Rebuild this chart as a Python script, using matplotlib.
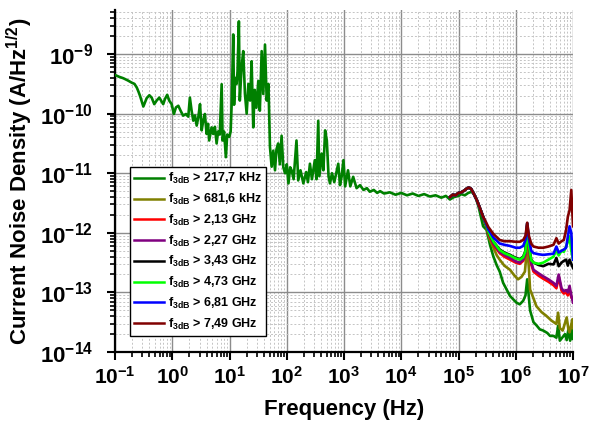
import numpy as np
import matplotlib
matplotlib.use("Agg")
import matplotlib.pyplot as plt
from matplotlib.ticker import LogLocator, FuncFormatter, NullFormatter

plt.rcParams["font.family"] = ["Liberation Sans", "DejaVu Sans"]
plt.rcParams["font.weight"] = "bold"
plt.rcParams["mathtext.fontset"] = "custom"
plt.rcParams["mathtext.rm"] = "Liberation Sans:bold"
plt.rcParams["mathtext.bf"] = "Liberation Sans:bold"
plt.rcParams["mathtext.it"] = "Liberation Sans:bold"

# values, stored as decades: log10(f / Hz), log10(I / A/Hz^0.5)
green_f = [
    -1.00, -0.93, -0.855, -0.78, -0.71, -0.66, -0.62, -0.59, -0.563, -0.505,
    -0.447, -0.40, -0.36, -0.314, -0.273, -0.226, -0.184, -0.158, -0.128, -0.088,
    -0.053, -0.011, 0.029, 0.064, 0.106, 0.146, 0.19, 0.24, 0.28, 0.308,
    0.338, 0.367, 0.397, 0.427, 0.455, 0.485, 0.514, 0.54, 0.57, 0.60,
    0.625, 0.645, 0.687, 0.715, 0.745, 0.775, 0.80, 0.83, 0.863, 0.88,
    0.905, 0.937, 0.96, 0.995, 1.02, 1.04, 1.065, 1.08, 1.10, 1.124,
    1.14, 1.164, 1.18, 1.21, 1.24, 1.27, 1.30, 1.33, 1.36, 1.386,
    1.415, 1.44, 1.47, 1.503, 1.53, 1.562, 1.59, 1.62, 1.65, 1.68,
    1.707, 1.736, 1.765, 1.795, 1.82, 1.85, 1.88, 1.91, 1.94, 1.97,
    2.00, 2.03, 2.06, 2.085, 2.12, 2.17, 2.20, 2.24, 2.29, 2.34,
    2.37, 2.405, 2.44, 2.49, 2.52, 2.55, 2.57, 2.61, 2.64, 2.67,
    2.70, 2.73, 2.755, 2.79, 2.83, 2.86, 2.90, 2.93, 2.96, 2.99,
    3.02, 3.07, 3.11, 3.16, 3.22, 3.28, 3.34, 3.40, 3.45, 3.52,
    3.58, 3.63, 3.70, 3.80, 3.90, 4.00, 4.10, 4.20, 4.30, 4.40,
    4.50, 4.60, 4.70, 4.78, 4.85, 4.92, 5.00, 5.05, 5.11, 5.17,
    5.23, 5.29, 5.35, 5.43, 5.49, 5.55, 5.61, 5.67, 5.72, 5.78,
    5.84, 5.90, 6.01, 6.07, 6.13, 6.17, 6.20, 6.23, 6.25, 6.31,
    6.36, 6.42, 6.48, 6.55, 6.60, 6.66, 6.71, 6.74, 6.77, 6.82,
    6.86, 6.89, 6.92, 6.95, 6.99, 7.00,
]
green_i = [
    -9.35, -9.38, -9.405, -9.44, -9.478, -9.50, -9.56, -9.63, -9.70, -9.88,
    -9.74, -9.69, -9.73, -9.84, -9.78, -9.73, -9.80, -9.84, -9.755, -9.683,
    -9.78, -9.84, -10.005, -9.895, -9.867, -9.95, -10.033, -10.005, -10.05, -9.73,
    -9.95, -10.117, -10.03, -10.20, -10.06, -9.84, -10.28, -10.12, -10.005, -10.34,
    -10.17, -10.45, -10.23, -10.34, -10.22, -10.50, -10.30, -10.35, -9.505, -10.45,
    -10.30, -10.73, -10.35, -10.39, -10.30, -9.78, -8.67, -9.85, -9.40, -9.50,
    -9.30, -8.45, -9.78, -9.23, -8.95, -9.67, -10.00, -9.50, -9.78, -9.12,
    -10.23, -9.60, -9.90, -9.45, -9.95, -8.95, -9.67, -8.84, -9.78, -9.50,
    -10.56, -10.89, -10.62, -10.95, -10.60, -10.50, -10.85, -10.37, -10.90, -11.00,
    -10.85, -11.17, -10.90, -10.95, -11.10, -10.45, -11.12, -10.95, -11.17, -10.98,
    -11.15, -10.84, -11.10, -10.78, -11.10, -10.12, -11.05, -10.67, -10.95, -10.28,
    -10.45, -11.05, -11.17, -11.00, -11.15, -11.02, -10.84, -11.20, -11.05, -10.78,
    -11.22, -10.95, -11.22, -11.06, -11.25, -11.20, -11.28, -11.25, -11.31, -11.28,
    -11.33, -11.30, -11.34, -11.32, -11.36, -11.33, -11.37, -11.34, -11.38, -11.35,
    -11.39, -11.37, -11.41, -11.38, -11.44, -11.40, -11.38, -11.35, -11.37, -11.33,
    -11.31, -11.38, -11.56, -11.89, -11.95, -12.20, -12.40, -12.55, -12.65, -12.84,
    -12.95, -13.06, -13.17, -13.20, -13.14, -13.05, -12.78, -13.10, -13.30, -13.50,
    -13.55, -13.62, -13.64, -13.68, -13.73, -13.73, -13.76, -13.56, -13.81, -13.75,
    -13.70, -13.80, -13.62, -13.81, -13.56, -13.78,
]

# shared start of the high-bandwidth traces (they lie on top of each other here)
trunk_f = [4.85, 4.90, 4.95, 5.00, 5.05, 5.10, 5.14, 5.18, 5.22, 5.27, 5.32, 5.38, 5.43]
trunk_i = [-11.40, -11.36, -11.37, -11.33, -11.32, -11.29, -11.26, -11.24, -11.26,
           -11.35, -11.45, -11.60, -11.73]

olive_f = [5.48, 5.55, 5.61, 5.67, 5.72, 5.80, 5.90, 5.98, 6.04, 6.10, 6.16, 6.20, 6.23, 6.25,
           6.31, 6.36, 6.45, 6.53, 6.62, 6.71, 6.74, 6.77, 6.82, 6.89, 6.92, 6.94, 6.99, 7.00]
olive_i = [-11.88, -12.12, -12.25, -12.38, -12.45, -12.55, -12.62, -12.72, -12.78, -12.74,
           -12.65, -12.22, -12.60, -12.95, -13.10, -13.23, -13.33, -13.39, -13.47, -13.53,
           -13.34, -13.60, -13.64, -13.42, -13.62, -13.67, -13.45, -13.60]

tail_f = [5.48, 5.52, 5.61, 5.72, 5.80, 5.90, 6.00, 6.07, 6.13, 6.17, 6.20, 6.23, 6.27, 6.31,
          6.40, 6.48, 6.57, 6.66, 6.71, 6.75, 6.80, 6.84, 6.88, 6.91, 6.94, 6.97, 7.00]
red_i = [-11.88, -12.01, -12.20, -12.34, -12.40, -12.45, -12.50, -12.52, -12.47, -12.37,
         -11.88, -12.28, -12.53, -12.65, -12.72, -12.77, -12.82, -12.88, -12.93, -12.74,
         -12.97, -13.02, -13.00, -13.05, -12.95, -13.08, -13.12]
purple_i = [-11.87, -11.99, -12.18, -12.32, -12.37, -12.42, -12.48, -12.50, -12.45, -12.35,
            -11.88, -12.25, -12.50, -12.62, -12.68, -12.73, -12.78, -12.84, -12.89, -12.70,
            -12.93, -12.98, -12.96, -13.00, -12.89, -13.05, -13.17]
black_i = [-11.86, -11.98, -12.15, -12.28, -12.33, -12.37, -12.42, -12.44, -12.40, -12.30,
           -11.84, -12.20, -12.45, -12.50, -12.54, -12.56, -12.52, -12.53, -12.42, -12.56,
           -12.50, -12.47, -12.45, -12.55, -12.45, -12.52, -12.59]
lime_i = [-11.86, -11.98, -12.15, -12.29, -12.34, -12.38, -12.43, -12.45, -12.41, -12.31,
          -11.85, -12.22, -12.46, -12.50, -12.52, -12.50, -12.45, -12.40, -12.28, -12.38,
          -12.30, -12.32, -12.23, -12.15, -12.06, -12.30, -12.45]
blue_i = [-11.84, -11.94, -12.08, -12.18, -12.20, -12.22, -12.25, -12.25, -12.22, -12.12,
          -11.84, -12.10, -12.30, -12.34, -12.36, -12.37, -12.36, -12.35, -12.23, -12.33,
          -12.30, -12.28, -12.25, -12.06, -11.89, -12.00, -12.45]
brown_i = [-11.82, -11.90, -12.02, -12.12, -12.14, -12.14, -12.15, -12.15, -12.12, -12.05,
           -11.83, -12.05, -12.18, -12.23, -12.25, -12.25, -12.23, -12.20, -12.09, -12.18,
           -12.14, -12.12, -11.95, -11.73, -11.62, -11.28, -11.89]

labels = ["217,7 kHz", "681,6 kHz", "2,13 GHz", "2,27 GHz",
          "3,43 GHz", "4,73 GHz", "6,81 GHz", "7,49 GHz"]
colors = ["#008000", "#808000", "#ff0000", "#800080",
          "#000000", "#00ff00", "#0000ff", "#800000"]


def main():
    fig = plt.figure(figsize=(5.89, 4.24), dpi=100)
    ax = fig.add_axes([115 / 589, 1 - 352 / 424, 458 / 589, 342 / 424])

    series = [
        (green_f, green_i),
        (trunk_f + olive_f, trunk_i + olive_i),
        (trunk_f + tail_f, trunk_i + red_i),
        (trunk_f + tail_f, trunk_i + purple_i),
        (trunk_f + tail_f, trunk_i + black_i),
        (trunk_f + tail_f, trunk_i + lime_i),
        (trunk_f + tail_f, trunk_i + blue_i),
        (trunk_f + tail_f, trunk_i + brown_i),
    ]
    for (fx, iy), lab, col in zip(series, labels, colors):
        ax.plot(10.0 ** np.array(fx), 10.0 ** np.array(iy), color=col, lw=1.9,
                label=r"$\mathbf{f_{3dB}}$ > " + lab, zorder=3)

    ax.set_xscale("log")
    ax.set_yscale("log")
    ax.set_xlim(1e-1, 1e7)
    ax.set_ylim(1e-14, 5.5e-9)

    ax.xaxis.set_major_locator(LogLocator(base=10, numticks=20))
    ax.xaxis.set_minor_locator(LogLocator(base=10, subs=np.arange(2, 10), numticks=20))
    ax.yaxis.set_major_locator(LogLocator(base=10, numticks=20))
    ax.yaxis.set_minor_locator(LogLocator(base=10, subs=np.arange(2, 10), numticks=20))
    fmt = FuncFormatter(lambda v, p: r"$\mathbf{10^{%d}}$" % int(round(np.log10(v))))
    ax.xaxis.set_major_formatter(fmt)
    ax.yaxis.set_major_formatter(fmt)
    ax.xaxis.set_minor_formatter(NullFormatter())
    ax.yaxis.set_minor_formatter(NullFormatter())

    ax.grid(which="major", color="#8c8c8c", lw=1.0, ls="-", zorder=0)
    ax.grid(which="minor", color="#c4c4c4", lw=0.7, ls=(0, (2, 2)), zorder=0)
    ax.set_axisbelow(True)

    for s in ("top", "right"):
        ax.spines[s].set_visible(False)
    for s in ("left", "bottom"):
        ax.spines[s].set_linewidth(1.6)
    ax.tick_params(which="major", direction="out", length=6, width=1.5)
    ax.tick_params(which="minor", direction="out", length=3.5, width=1.2)
    ax.tick_params(axis="x", which="major", labelsize=15, pad=4)
    ax.tick_params(axis="y", which="major", labelsize=16, pad=10)

    ax.set_xlabel("Frequency (Hz)", fontsize=16, fontweight="bold", labelpad=8)
    ax.set_ylabel(r"Current Noise Density (A/Hz$^{\mathbf{1/2}}$)", fontsize=16,
                  fontweight="bold", labelpad=3)

    leg = ax.legend(loc="lower left", bbox_to_anchor=(0.033, 0.047), borderaxespad=0,
                    fontsize=9, frameon=True, fancybox=False, handlelength=2.4,
                    handletextpad=0.25, labelspacing=0.45, borderpad=0.35)
    leg.get_frame().set_edgecolor("black")
    leg.get_frame().set_linewidth(1.0)
    leg.get_frame().set_alpha(1.0)
    for t in leg.get_texts():
        t.set_fontweight("bold")
    for h in leg.get_lines():
        h.set_linewidth(1.8)

    fig.savefig("out.png", dpi=100)


if __name__ == "__main__":
    main()
